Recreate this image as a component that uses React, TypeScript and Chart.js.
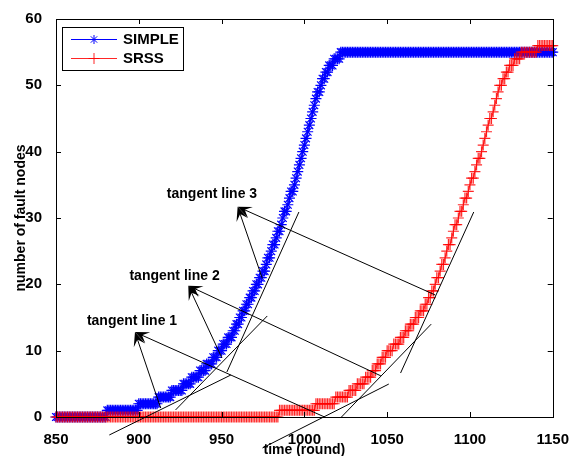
import React, { useEffect, useRef } from 'react';
import { Chart, registerables } from 'chart.js';

Chart.register(...registerables);

// ---------- data ----------
const X_MIN = 850;
const X_MAX = 1150;
const X_TICKS = [850, 900, 950, 1000, 1050, 1100, 1150];
const Y_TICKS = [0, 10, 20, 30, 40, 50, 60];

const SERIES_NAMES = ['SIMPLE', 'SRSS'];

// rounds at which the number of fault nodes changes, and the new count
const SIMPLE_CHANGE_ROUNDS = [850, 881, 900, 912, 920, 927, 932, 937, 941, 945, 948, 951, 954, 957, 959, 961, 963, 965, 967, 969, 971, 973, 975, 977, 978, 980, 981, 983, 984, 986, 987, 988, 990, 991, 992, 994, 995, 996, 997, 998, 999, 1000, 1001, 1002, 1003, 1004, 1005, 1006, 1007, 1008, 1010, 1011, 1013, 1015, 1018, 1022];
const SIMPLE_CHANGE_COUNTS = [0, 1, 2, 3, 4, 5, 6, 7, 8, 9, 10, 11, 12, 13, 14, 15, 16, 17, 18, 19, 20, 21, 22, 23, 24, 25, 26, 27, 28, 29, 30, 31, 32, 33, 34, 35, 36, 37, 38, 39, 40, 41, 42, 43, 44, 45, 46, 47, 48, 49, 50, 51, 52, 53, 54, 55];

const SRSS_CHANGE_ROUNDS = [850, 985, 1007, 1019, 1027, 1032, 1037, 1041, 1044, 1047, 1050, 1054, 1058, 1061, 1064, 1067, 1070, 1073, 1075, 1077, 1079, 1080, 1082, 1083, 1085, 1086, 1087, 1089, 1090, 1091, 1093, 1094, 1096, 1097, 1099, 1100, 1101, 1103, 1104, 1105, 1107, 1108, 1109, 1110, 1111, 1112, 1114, 1115, 1116, 1117, 1118, 1120, 1122, 1124, 1127, 1131, 1141];
const SRSS_CHANGE_COUNTS = [0, 1, 2, 3, 4, 5, 6, 7, 8, 9, 10, 11, 12, 13, 14, 15, 16, 17, 18, 19, 20, 21, 22, 23, 24, 25, 26, 27, 28, 29, 30, 31, 32, 33, 34, 35, 36, 37, 38, 39, 40, 41, 42, 43, 44, 45, 46, 47, 48, 49, 50, 51, 52, 53, 54, 55, 56];

// annotation text labels (data coordinates)
const LABEL_TEXTS = ['tangent line 1', 'tangent line 2', 'tangent line 3'];
const LABEL_X = [895.9, 921.6, 944.2];
const LABEL_Y = [14.5, 21.3, 33.6];

// arrow tips (next to labels)
const ARROW_TIP_X = [897.7, 929.9, 959.7];
const ARROW_TIP_Y = [12.8, 19.8, 31.7];
// arrow tails on SIMPLE tangents and on SRSS tangents
const ARROW_SIMPLE_X = [913.2, 950.2, 974.6];
const ARROW_SIMPLE_Y = [1.36, 8.9, 20.9];
const ARROW_SRSS_X = [1012.2, 1046.2, 1079.0];
const ARROW_SRSS_Y = [0, 6.2, 18.4];

// tangent line segments [x1, y1, x2, y2]
const TANGENTS_SIMPLE = [
  [882.2, -2.71, 955.6, 6.33],
  [922.2, 1.06, 977.6, 15.23],
  [953.2, 6.78, 996.7, 30.9],
];
const TANGENTS_SRSS = [
  [974.7, -4.67, 1051.0, 4.97],
  [1022.4, 0, 1076.6, 14.0],
  [1058.1, 6.63, 1102.3, 30.9],
];

const X_TITLE = 'time (round)';
const Y_TITLE = 'number of fault nodes';

function expandSteps(rounds: number[], counts: number[]) {
  const pts: { x: number; y: number }[] = [];
  let idx = 0;
  for (let r = X_MIN; r <= X_MAX; r++) {
    while (idx + 1 < rounds.length && rounds[idx + 1] <= r) idx++;
    pts.push({ x: r, y: counts[idx] });
  }
  return pts;
}

const FONT = "'Liberation Sans', Arial, Helvetica, sans-serif";
const BLUE = '#0000ff';
const RED = 'rgba(255,0,0,0.85)';

function drawStar(ctx: CanvasRenderingContext2D, x: number, y: number, r: number) {
  ctx.beginPath();
  for (let i = 0; i < 4; i++) {
    const a = (i * Math.PI) / 4;
    ctx.moveTo(x - Math.cos(a) * r, y - Math.sin(a) * r);
    ctx.lineTo(x + Math.cos(a) * r, y + Math.sin(a) * r);
  }
  ctx.stroke();
}
function drawCross(ctx: CanvasRenderingContext2D, x: number, y: number, r: number) {
  ctx.beginPath();
  ctx.moveTo(x - r, y);
  ctx.lineTo(x + r, y);
  ctx.moveTo(x, y - r);
  ctx.lineTo(x, y + r);
  ctx.stroke();
}

function drawArrow(ctx: CanvasRenderingContext2D, x0: number, y0: number, x1: number, y1: number) {
  const dx = x1 - x0;
  const dy = y1 - y0;
  const len = Math.hypot(dx, dy);
  const ux = dx / len;
  const uy = dy / len;
  const nx = -uy;
  const ny = ux;
  const L = 14;
  const W = 6;
  ctx.beginPath();
  ctx.moveTo(x0, y0);
  ctx.lineTo(x1 - ux * L * 0.5, y1 - uy * L * 0.5);
  ctx.stroke();
  ctx.beginPath();
  ctx.moveTo(x1, y1);
  ctx.lineTo(x1 - ux * L + nx * W, y1 - uy * L + ny * W);
  ctx.lineTo(x1 - ux * L * 0.55, y1 - uy * L * 0.55);
  ctx.lineTo(x1 - ux * L - nx * W, y1 - uy * L - ny * W);
  ctx.closePath();
  ctx.fill();
}

const overlayPlugin = {
  id: 'overlay',
  afterDatasetsDraw(chart: any) {
    const { ctx, chartArea, scales } = chart;
    const xs = scales.x;
    const ys = scales.y;
    const { left, right, top, bottom } = chartArea;
    ctx.save();

    // axes box
    ctx.strokeStyle = '#000';
    ctx.lineWidth = 1;
    ctx.strokeRect(Math.round(left) + 0.5, Math.round(top) + 0.5, Math.round(right - left), Math.round(bottom - top));
    // inward ticks
    const TL = 5;
    ctx.beginPath();
    xs.ticks.forEach((t: any) => {
      const px = Math.round(xs.getPixelForValue(t.value)) + 0.5;
      ctx.moveTo(px, bottom);
      ctx.lineTo(px, bottom - TL);
      ctx.moveTo(px, top);
      ctx.lineTo(px, top + TL);
    });
    ys.ticks.forEach((t: any) => {
      const py = Math.round(ys.getPixelForValue(t.value)) + 0.5;
      ctx.moveTo(left, py);
      ctx.lineTo(left + TL, py);
      ctx.moveTo(right, py);
      ctx.lineTo(right - TL, py);
    });
    ctx.stroke();

    // tangent lines
    ctx.strokeStyle = '#000';
    ctx.lineWidth = 1;
    [...TANGENTS_SIMPLE, ...TANGENTS_SRSS].forEach((s) => {
      ctx.beginPath();
      ctx.moveTo(xs.getPixelForValue(s[0]), ys.getPixelForValue(s[1]));
      ctx.lineTo(xs.getPixelForValue(s[2]), ys.getPixelForValue(s[3]));
      ctx.stroke();
    });

    // arrows
    ctx.fillStyle = '#000';
    for (let i = 0; i < 3; i++) {
      const tx = xs.getPixelForValue(ARROW_TIP_X[i]);
      const ty = ys.getPixelForValue(ARROW_TIP_Y[i]);
      drawArrow(ctx, xs.getPixelForValue(ARROW_SIMPLE_X[i]), ys.getPixelForValue(ARROW_SIMPLE_Y[i]), tx, ty);
      drawArrow(ctx, xs.getPixelForValue(ARROW_SRSS_X[i]), ys.getPixelForValue(ARROW_SRSS_Y[i]), tx, ty);
    }

    // labels
    ctx.font = `bold 14px ${FONT}`;
    ctx.textAlign = 'center';
    ctx.textBaseline = 'middle';
    ctx.fillStyle = '#000';
    for (let i = 0; i < 3; i++) {
      ctx.fillText(LABEL_TEXTS[i], xs.getPixelForValue(LABEL_X[i]), ys.getPixelForValue(LABEL_Y[i]));
    }

    // axis titles
    ctx.textBaseline = 'alphabetic';
    ctx.fillText(X_TITLE, (left + right) / 2, 454);
    ctx.save();
    ctx.translate(25, (top + bottom) / 2);
    ctx.rotate(-Math.PI / 2);
    ctx.fillText(Y_TITLE, 0, 0);
    ctx.restore();

    // legend
    const bx = left + 6;
    const by = top + 8;
    const bw = 121;
    const bh = 43;
    ctx.fillStyle = '#fff';
    ctx.fillRect(bx, by, bw, bh);
    ctx.strokeStyle = '#000';
    ctx.lineWidth = 1;
    ctx.strokeRect(bx + 0.5, by + 0.5, bw, bh);
    const rows = [
      { y: by + 12, color: BLUE, marker: 'star' },
      { y: by + 31, color: RED, marker: 'cross' },
    ];
    rows.forEach((r, i) => {
      ctx.strokeStyle = r.color;
      ctx.lineWidth = 1;
      ctx.beginPath();
      ctx.moveTo(bx + 9, r.y + 0.5);
      ctx.lineTo(bx + 55, r.y + 0.5);
      ctx.stroke();
      if (r.marker === 'star') drawStar(ctx, bx + 32, r.y + 0.5, 4.5);
      else drawCross(ctx, bx + 32, r.y + 0.5, 5.5);
      ctx.fillStyle = '#000';
      ctx.textAlign = 'left';
      ctx.textBaseline = 'middle';
      ctx.font = `bold 15px ${FONT}`;
      ctx.fillText(chart.data.datasets[i].label, bx + 61, r.y + 1);
    });

    ctx.restore();
  },
};

export default function App() {
  const ref = useRef<HTMLCanvasElement>(null);
  useEffect(() => {
    const canvas = ref.current!;
    const simplePts = expandSteps(SIMPLE_CHANGE_ROUNDS, SIMPLE_CHANGE_COUNTS);
    const srssPts = expandSteps(SRSS_CHANGE_ROUNDS, SRSS_CHANGE_COUNTS);
    const tickFont = { family: FONT, size: 15, weight: 'bold' as const };
    const chart = new Chart(canvas, {
      type: 'line',
      data: {
        datasets: [
          {
            label: SERIES_NAMES[0],
            data: simplePts,
            borderColor: BLUE,
            backgroundColor: BLUE,
            borderWidth: 1,
            pointStyle: 'star',
            pointRadius: 5.5,
            pointBorderColor: BLUE,
            pointBorderWidth: 1.2,
            order: 1,
            clip: false as any,
          },
          {
            label: SERIES_NAMES[1],
            data: srssPts,
            borderColor: RED,
            backgroundColor: RED,
            borderWidth: 1,
            pointStyle: 'cross',
            pointRadius: 5.5,
            pointBorderColor: RED,
            pointBorderWidth: 1.2,
            order: 0,
            clip: false as any,
          },
        ],
      },
      options: {
        animation: false,
        responsive: false,
        devicePixelRatio: 1,
        events: [],
        layout: { padding: { top: 19, right: 16, left: 0, bottom: 0 } },
        plugins: { legend: { display: false }, tooltip: { enabled: false } },
        elements: { line: { tension: 0 } },
        scales: {
          x: {
            type: 'linear',
            min: X_MIN,
            max: X_MAX,
            afterBuildTicks: (s: any) => {
              s.ticks = X_TICKS.map((v) => ({ value: v }));
            },
            afterFit: (s: any) => {
              s.height = 39;
            },
            grid: { display: false },
            border: { display: false },
            ticks: {
              padding: 6,
              color: '#000',
              font: tickFont,
              maxRotation: 0,
              autoSkip: false,
              callback: (v: any) => String(v),
            },
          },
          y: {
            type: 'linear',
            min: 0,
            max: 60,
            afterBuildTicks: (s: any) => {
              s.ticks = Y_TICKS.map((v) => ({ value: v }));
            },
            afterFit: (s: any) => {
              s.width = 56;
            },
            grid: { display: false },
            border: { display: false },
            ticks: { padding: 6, color: '#000', font: tickFont, autoSkip: false, callback: (v: any) => String(v) },
          },
        },
      },
      plugins: [overlayPlugin],
    });
    return () => chart.destroy();
  }, []);
  return (
    <div style={{ position: 'fixed', left: 0, top: 0, width: 575, height: 456, background: '#fff' }}>
      <canvas ref={ref} width={575} height={456} style={{ display: 'block' }} />
    </div>
  );
}
